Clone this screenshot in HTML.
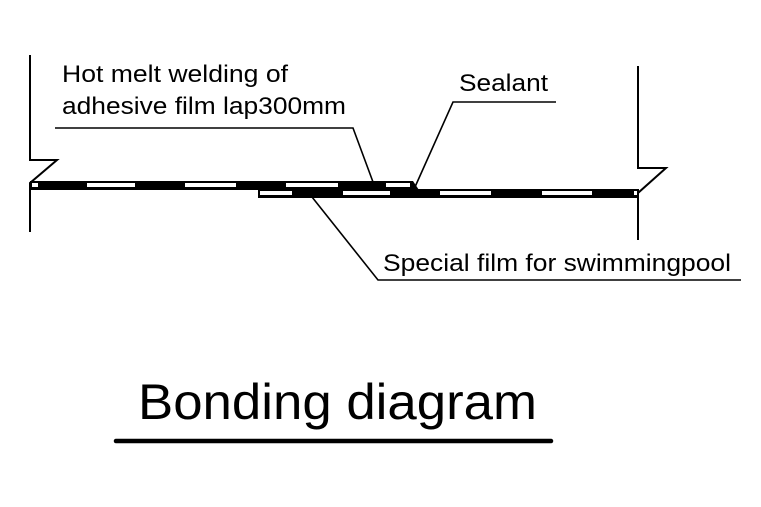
<!DOCTYPE html>
<html><head><meta charset="utf-8"><style>html,body{margin:0;padding:0;background:#fff;}svg{display:block}</style></head>
<body>
<svg width="761" height="507" viewBox="0 0 761 507" xmlns="http://www.w3.org/2000/svg" font-family="Liberation Sans, Arial, sans-serif">
<rect width="761" height="507" fill="#fff"/>
<g stroke="#000" stroke-width="2" fill="none">
<polyline points="30,55 30,160 57,160 30,183 30,232"/>
<polyline points="638,66 638,168 666,168 638,193 638,240"/>
<polyline points="55,128 353,128 373,182" stroke-width="1.6"/>
<polyline points="556,102 453,102 415,187" stroke-width="1.6"/>
<polyline points="312,197 378,280 741,280" stroke-width="1.6"/>
</g>
<rect x="30" y="181" width="382" height="9" fill="#000"/>
<g fill="#fff">
<rect x="32" y="183" width="6" height="4"/>
<rect x="87" y="183" width="48" height="4"/>
<rect x="185" y="183" width="51" height="4"/>
<rect x="286" y="183" width="52" height="4"/>
<rect x="386" y="183" width="24" height="4"/>
</g>
<polygon points="410,181 413,181 419,190 410,190" fill="#000"/>
<rect x="258" y="189" width="381" height="9" fill="#000"/>
<g fill="#fff">
<rect x="260" y="191" width="32" height="4"/>
<rect x="343" y="191" width="47" height="4"/>
<rect x="440" y="191" width="51" height="4"/>
<rect x="542" y="191" width="50" height="4"/>
<rect x="634" y="191" width="3" height="4"/>
</g>
<g fill="#000" font-size="24">
<text x="62" y="82" textLength="226" lengthAdjust="spacingAndGlyphs">Hot melt welding of</text>
<text x="62" y="114" textLength="284" lengthAdjust="spacingAndGlyphs">adhesive film lap300mm</text>
<text x="459" y="91" textLength="89" lengthAdjust="spacingAndGlyphs">Sealant</text>
<text x="383" y="271" textLength="348" lengthAdjust="spacingAndGlyphs">Special film for swimmingpool</text>
<text x="138" y="419" font-size="50" textLength="399" lengthAdjust="spacingAndGlyphs">Bonding diagram</text>
</g>
<line x1="116" y1="441" x2="551" y2="441" stroke="#000" stroke-width="4.5" stroke-linecap="round"/>
</svg>
</body></html>
